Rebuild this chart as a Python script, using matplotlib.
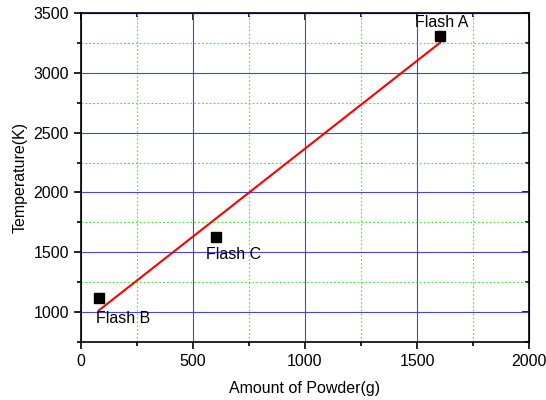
import numpy as np
import matplotlib
matplotlib.use("Agg")
import matplotlib.pyplot as plt
from matplotlib.ticker import MultipleLocator

plt.rcParams['font.family'] = ['Liberation Sans', 'DejaVu Sans']

# measured flash data
powder = [80, 603, 1603]
temperature = [1115, 1628, 3305]
names = ['Flash B', 'Flash C', 'Flash A']

# linear fit through the points
slope, intercept = np.polyfit(powder, temperature, 1)
fit_x = np.array([powder[0], powder[-1]])
fit_y = slope * fit_x + intercept

fig = plt.figure(figsize=(5.46, 4.0), dpi=100)
ax = fig.add_axes([0.148, 0.145, 0.821, 0.8225])

ax.plot(fit_x, fit_y, color='#ff0000', lw=1.5, zorder=3)
ax.plot(powder, temperature, 's', color='black', ms=7, zorder=4)

fs = 11.5
# labels next to points
ax.text(powder[0] - 10, temperature[0] - 105, names[0], fontsize=fs, ha='left', va='top')
ax.text(powder[1] - 45, temperature[1] - 80, names[1], fontsize=fs, ha='left', va='top')
ax.text(powder[2] + 5, temperature[2] + 55, names[2], fontsize=fs, ha='center', va='bottom')

ax.set_xlim(0, 2000)
ax.set_ylim(750, 3500)
ax.xaxis.set_major_locator(MultipleLocator(500))
ax.xaxis.set_minor_locator(MultipleLocator(250))
ax.yaxis.set_major_locator(MultipleLocator(500))
ax.yaxis.set_minor_locator(MultipleLocator(250))

ax.grid(which='major', color='#4646dc', lw=0.8, ls='-')
ax.grid(which='minor', color='#3ce63c', lw=0.8, ls=(0, (1.5, 2)))
ax.set_axisbelow(True)

for s in ax.spines.values():
    s.set_linewidth(1.2)

ax.tick_params(which='both', direction='out', labelsize=fs, width=1.2)
ax.tick_params(which='major', length=5)
ax.tick_params(which='minor', length=3)

# mirrored inward ticks on top and right
top = ax.secondary_xaxis('top')
top.set_xticks(np.arange(0, 2001, 500))
top.xaxis.set_minor_locator(MultipleLocator(250))
top.tick_params(which='both', direction='in', labeltop=False, width=1.2)
top.tick_params(which='major', length=5)
top.tick_params(which='minor', length=3)
right = ax.secondary_yaxis('right')
right.yaxis.set_major_locator(MultipleLocator(500))
right.yaxis.set_minor_locator(MultipleLocator(250))
right.tick_params(which='both', direction='in', labelright=False, width=1.2)
right.tick_params(which='major', length=5)
right.tick_params(which='minor', length=3)

ax.set_xlabel('Amount of Powder(g)', fontsize=fs, labelpad=9)
ax.set_ylabel('Temperature(K)', fontsize=fs, labelpad=4)

fig.savefig('out.png', dpi=100)
